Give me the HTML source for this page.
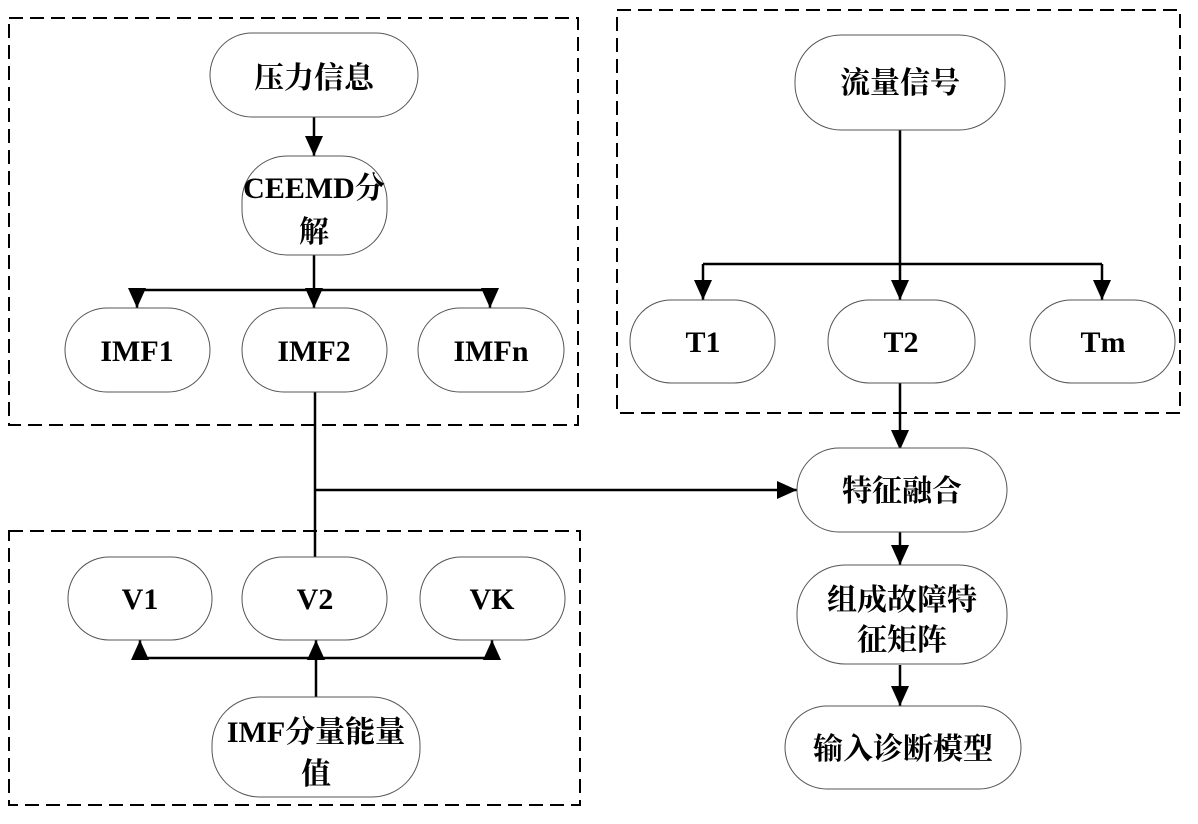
<!DOCTYPE html>
<html><head><meta charset="utf-8"><style>
body{margin:0;background:#fff}
text{font-family:"Liberation Serif","Noto Serif CJK SC",serif;font-weight:bold;font-size:30px;text-anchor:middle;fill:#000}
.n{fill:#fff;stroke:#555;stroke-width:1}
.d{fill:none;stroke:#000;stroke-width:2;stroke-dasharray:14,7}
.l{stroke:#000;stroke-width:2.5;fill:none}
</style></head><body>
<svg width="1198" height="819" viewBox="0 0 1198 819" xmlns="http://www.w3.org/2000/svg">
<defs>
<marker id="b" markerWidth="20" markerHeight="18" refX="20" refY="9" orient="auto" markerUnits="userSpaceOnUse"><path d="M0,0L20,9L0,18z"/></marker></defs>
<rect class="d" x="9" y="18" width="569" height="407"/>
<rect class="d" x="617" y="10" width="563" height="403"/>
<rect class="d" x="9" y="531" width="571" height="274"/>
<path class="l" d="M314 117V156" marker-end="url(#b)"/>
<path class="l" d="M314 255V290"/>
<path class="l" d="M137 290H490"/>
<path class="l" d="M137 290V308" marker-end="url(#b)"/>
<path class="l" d="M314 290V308" marker-end="url(#b)"/>
<path class="l" d="M490 290V308" marker-end="url(#b)"/>
<path class="l" d="M900 130V300" marker-end="url(#b)"/>
<path class="l" d="M703 264H1102"/>
<path class="l" d="M703 264V300" marker-end="url(#b)"/>
<path class="l" d="M1102 264V300" marker-end="url(#b)"/>
<path class="l" d="M900 383V450" marker-end="url(#b)"/>
<path class="l" d="M315 390V557"/>
<path class="l" d="M315 490H797" marker-end="url(#b)"/>
<path class="l" d="M900 532V565" marker-end="url(#b)"/>
<path class="l" d="M900 665V706" marker-end="url(#b)"/>
<path class="l" d="M140 658H492"/>
<path class="l" d="M316 697V640" marker-end="url(#b)"/>
<path class="l" d="M140 658V640" marker-end="url(#b)"/>
<path class="l" d="M492 658V640" marker-end="url(#b)"/>
<rect class="n" x="210" y="33" width="208" height="84" rx="42"/>
<text x="314" y="88">压力信息</text>
<rect class="n" x="242" y="156" width="145" height="99" rx="45"/>
<text x="314" y="198">CEEMD分</text><text x="314" y="242">解</text>
<rect class="n" x="65" y="308" width="145" height="84" rx="42"/>
<text x="137" y="361">IMF1</text>
<rect class="n" x="242" y="308" width="145" height="84" rx="42"/>
<text x="314" y="361">IMF2</text>
<rect class="n" x="418" y="308" width="146" height="84" rx="42"/>
<text x="491" y="361">IMFn</text>
<rect class="n" x="795" y="35" width="210" height="95" rx="46"/>
<text x="900" y="93">流量信号</text>
<rect class="n" x="630" y="300" width="145" height="83" rx="41"/>
<text x="703" y="352">T1</text>
<rect class="n" x="828" y="300" width="147" height="83" rx="41"/>
<text x="901" y="352">T2</text>
<rect class="n" x="1030" y="300" width="145" height="83" rx="41"/>
<text x="1103" y="352">Tm</text>
<rect class="n" x="797" y="448" width="210" height="84" rx="42"/>
<text x="902" y="501">特征融合</text>
<rect class="n" x="797" y="565" width="210" height="99" rx="48"/>
<text x="902" y="610">组成故障特</text><text x="902" y="650">征矩阵</text>
<rect class="n" x="785" y="706" width="236" height="83" rx="42"/>
<text x="903" y="759">输入诊断模型</text>
<rect class="n" x="68" y="557" width="144" height="83" rx="41"/>
<text x="140" y="609">V1</text>
<rect class="n" x="242" y="557" width="145" height="83" rx="41"/>
<text x="315" y="609">V2</text>
<rect class="n" x="420" y="557" width="145" height="83" rx="41"/>
<text x="492" y="609">VK</text>
<rect class="n" x="212" y="697" width="208" height="100" rx="48"/>
<text x="316" y="742">IMF分量能量</text><text x="316" y="784">值</text>
</svg>
</body></html>
